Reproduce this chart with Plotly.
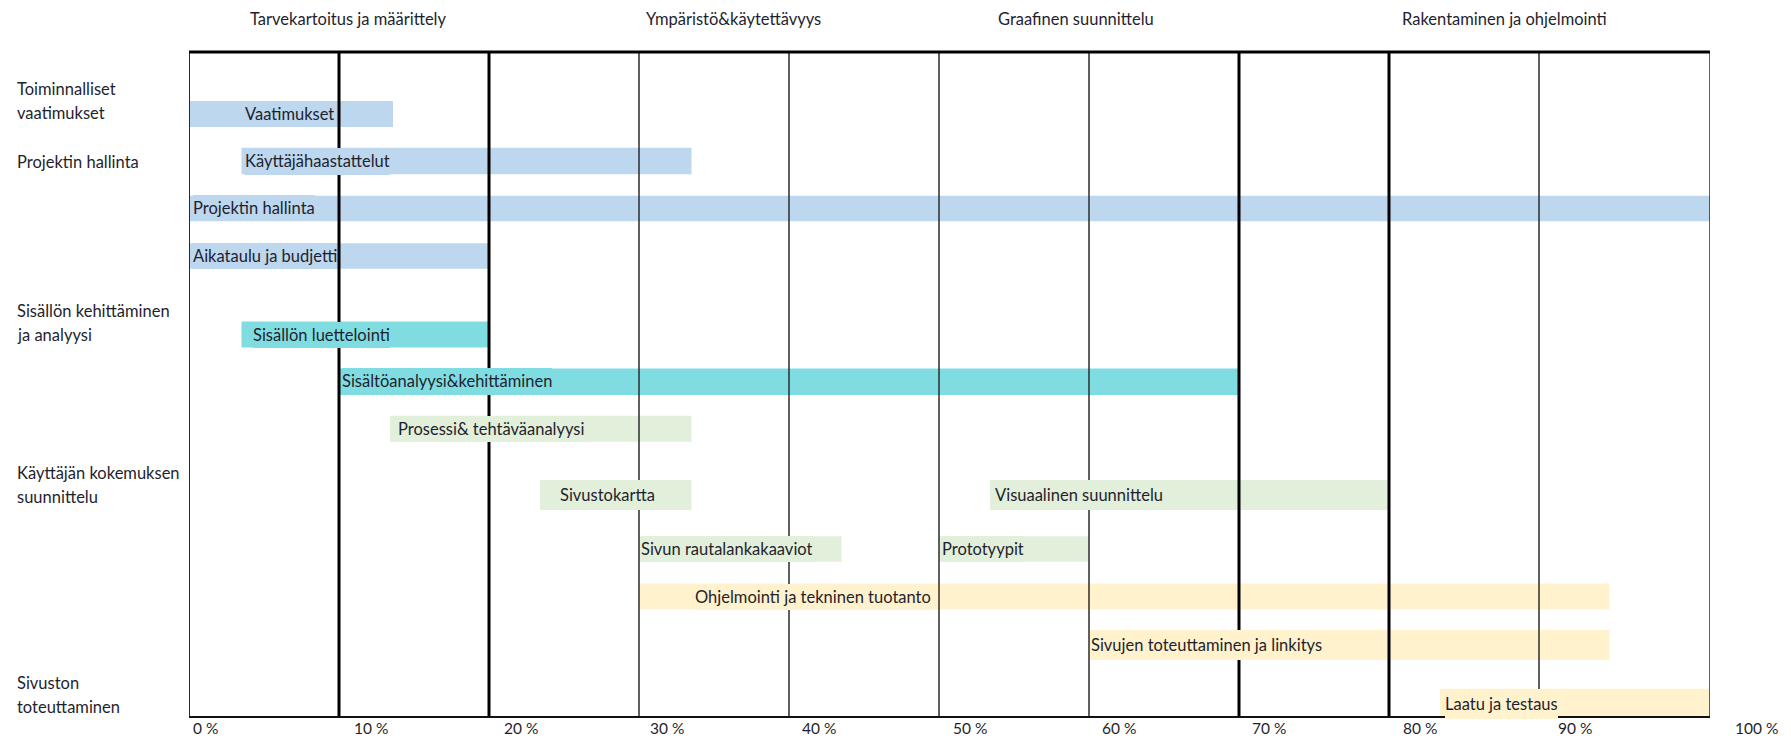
import plotly.graph_objects as go

# ---------------- data ----------------
tasks = [
    "Vaatimukset", "Käyttäjähaastattelut", "Projektin hallinta", "Aikataulu ja budjetti",
    "Sisällön luettelointi", "Sisältöanalyysi&kehittäminen",
    "Prosessi& tehtäväanalyysi", "Sivustokartta", "Visuaalinen suunnittelu",
    "Sivun rautalankakaaviot", "Prototyypit",
    "Ohjelmointi ja tekninen tuotanto", "Sivujen toteuttaminen ja linkitys", "Laatu ja testaus",
]
start_pct = [0, 3.5, 0, 0, 3.5, 10, 13.4, 23.4, 53.4, 30, 50, 30, 60, 83.4]
end_pct = [13.6, 33.5, 101.4, 20, 20, 70, 33.5, 33.5, 80, 43.5, 60, 94.7, 94.7, 101.4]
task_row = [0, 1, 2, 3, 4, 5, 6, 7, 7, 8, 8, 9, 10, 11]
task_group = ["blue", "blue", "blue", "blue", "teal", "teal",
              "green", "green", "green", "green", "green",
              "yellow", "yellow", "yellow"]
label_start = [3.73, 3.73, 0.27, 0.27, 4.25, 10.2, 13.9, 24.7, 53.7, 30.1, 50.2, 33.7, 60.1, 83.7]

phase_labels = ["Tarvekartoitus ja määrittely", "Ympäristö&käytettävyys",
                "Graafinen suunnittelu", "Rakentaminen ja ohjelmointi"]
phase_pos = [10.6, 36.3, 59.1, 87.7]

side_labels = [["Toiminnalliset", "vaatimukset"], ["Projektin hallinta"],
               ["Sisällön kehittäminen", "ja analyysi"],
               ["Käyttäjän kokemuksen", "suunnittelu"], ["Sivuston", "toteuttaminen"]]
side_label_top = [37.3, 109.7, 258.7, 421.3, 631]   # first-line centre (plot px from top)

tick_values = [0, 10, 20, 30, 40, 50, 60, 70, 80, 90, 100]
tick_text = [f"{v} %" for v in tick_values]
tick_label_pos = [1.1, 12.13, 22.1, 31.9, 42.0, 52.1, 62.0, 72.0, 82.1, 92.4, 104.5]

# ---------------- layout / style ----------------
X_MAX = 101.4
PLOT_H = 665
row_pos = [62, 109, 156.4, 204, 282.5, 329.7, 376.8, 443, 497, 544.5, 593, 651.7]
row_thick = [26, 26.5, 25.5, 25.5, 26, 26.5, 26, 30, 25.5, 26, 30, 30]
colors = {"blue": "#BDD7EE", "teal": "#7FDDE2", "green": "#E2EFDA", "yellow": "#FFF2CC"}
thick_lines = {10, 20, 70, 80}
FONT = "Lato"
FS = 16.5
TXT = "#1f1f2e"

L, R, T, B = 189, 81, 52, 22
W, H = 1791, 739
plot_w = W - L - R

fig = go.Figure()
for g, col in colors.items():
    idx = [i for i, gg in enumerate(task_group) if gg == g]
    fig.add_trace(go.Bar(
        orientation="h",
        y=[row_pos[task_row[i]] for i in idx],
        x=[end_pct[i] - start_pct[i] for i in idx],
        base=[start_pct[i] for i in idx],
        width=[row_thick[task_row[i]] for i in idx],
        marker=dict(color=col, line=dict(width=0)),
        showlegend=False, hoverinfo="skip",
    ))

shapes = []
for v in range(0, 100, 10):
    thick = v in thick_lines
    shapes.append(dict(type="line", xref="x", yref="paper", x0=v, x1=v, y0=0, y1=1,
                       line=dict(color="#000000" if thick else "#2b2b2b",
                                 width=3 if thick else (2 if v == 0 else 1.5)),
                       layer="above"))
shapes.append(dict(type="line", xref="x", yref="paper", x0=X_MAX, x1=X_MAX, y0=0, y1=1,
                   line=dict(color="#2b2b2b", width=1.5), layer="above"))
shapes.append(dict(type="line", xref="x", yref="paper", x0=0, x1=X_MAX, y0=1, y1=1,
                   line=dict(color="#000000", width=3), layer="above"))
shapes.append(dict(type="line", xref="x", yref="paper", x0=0, x1=X_MAX, y0=0, y1=0,
                   line=dict(color="#111111", width=2), layer="above"))

ann = []
for i, t in enumerate(tasks):
    ann.append(dict(text=t, x=label_start[i], y=row_pos[task_row[i]], xref="x", yref="y",
                    xanchor="left", yanchor="middle", showarrow=False,
                    bgcolor=colors[task_group[i]], borderpad=0, borderwidth=0,
                    height=row_thick[task_row[i]], valign="middle",
                    font=dict(family=FONT, size=FS, color=TXT)))
for t, p in zip(phase_labels, phase_pos):
    ann.append(dict(text=t, x=p, y=1 + 32.7 / PLOT_H, xref="x", yref="paper",
                    xanchor="center", yanchor="middle", showarrow=False,
                    font=dict(family=FONT, size=FS, color=TXT)))
for lines, top in zip(side_labels, side_label_top):
    for k, ln in enumerate(lines):
        ann.append(dict(text=ln, x=(14.5 - L) / plot_w, y=top + 24 * k, xref="paper", yref="y",
                        xanchor="left", yanchor="middle", showarrow=False,
                        font=dict(family=FONT, size=FS, color=TXT)))
for t, p in zip(tick_text, tick_label_pos):
    ann.append(dict(text=t, x=p / X_MAX, y=-11 / PLOT_H, xref="paper", yref="paper",
                    xanchor="center", yanchor="middle", showarrow=False,
                    font=dict(family=FONT, size=15.5, color=TXT)))

fig.update_layout(
    width=W, height=H, margin=dict(l=L, r=R, t=T, b=B),
    paper_bgcolor="white", plot_bgcolor="white", barmode="overlay",
    xaxis=dict(range=[0, X_MAX], showgrid=False, zeroline=False, showticklabels=False,
               showline=False, ticks=""),
    yaxis=dict(range=[PLOT_H, 0], showgrid=False, zeroline=False, showticklabels=False,
               showline=False, ticks=""),
    shapes=shapes, annotations=ann,
)
fig.write_html("out.html")
